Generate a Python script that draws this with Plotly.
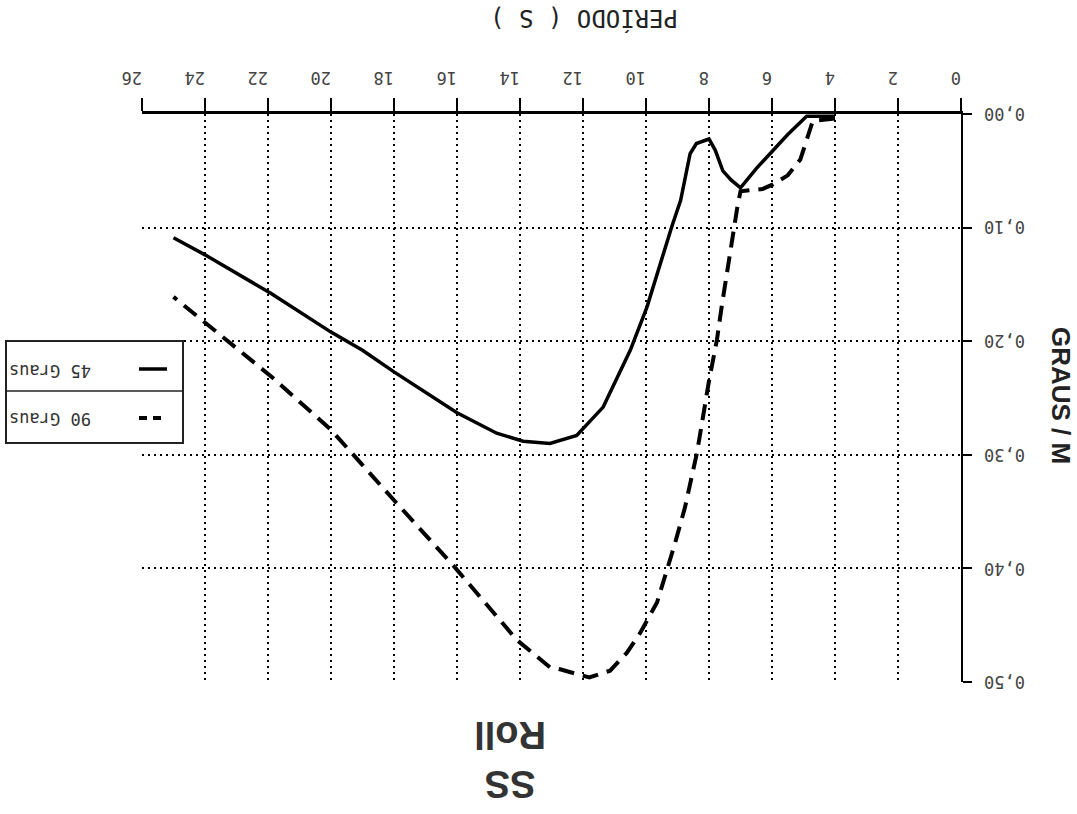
import plotly.graph_objects as go

# Data (period in s, response in graus/m)
periodo_45 = [4.0, 4.9, 5.5, 5.97, 6.5, 7.0, 7.3, 7.56, 7.8, 8.0, 8.4, 8.6, 8.9, 9.18, 9.56,
              9.97, 10.5, 11.0, 11.36, 12.2, 13.05, 13.9, 14.74, 16.0, 18.0, 19.0, 20.0, 21.9, 24.0, 25.0]
graus_45 = [0.002, 0.002, 0.018, 0.032, 0.048, 0.065, 0.058, 0.050, 0.032, 0.022, 0.026, 0.035, 0.076, 0.099, 0.134,
            0.170, 0.208, 0.237, 0.258, 0.283, 0.290, 0.288, 0.281, 0.263, 0.227, 0.208, 0.192, 0.158, 0.124, 0.109]

periodo_90 = [4.0, 4.7, 4.75, 5.1, 5.5, 5.97, 6.3, 7.0, 7.1, 7.27, 7.43, 7.6, 7.75, 8.0, 8.38, 8.76,
              9.08, 9.3, 9.65, 10.19, 10.6, 11.14, 11.8, 12.7, 13.05, 14.1, 16.1, 18.0, 20.0, 21.9, 24.0, 25.0]
graus_90 = [0.004, 0.006, 0.010, 0.040, 0.054, 0.062, 0.066, 0.068, 0.082, 0.111, 0.140, 0.170, 0.199, 0.235, 0.298, 0.346,
            0.378, 0.399, 0.430, 0.457, 0.474, 0.490, 0.496, 0.489, 0.487, 0.463, 0.398, 0.340, 0.278, 0.231, 0.184, 0.161]

x_ticks = list(range(0, 27, 2))
y_ticks = [0.0, 0.1, 0.2, 0.3, 0.4, 0.5]
y_tick_text = ["0,00", "0,10", "0,20", "0,30", "0,40", "0,50"]
series_names = ["45 Graus", "90 Graus"]

tick_font = dict(family="DejaVu Sans Mono", size=17, color="#444")

fig = go.Figure()
fig.add_trace(go.Scatter(x=periodo_45, y=graus_45, mode="lines", name=series_names[0],
                         line=dict(color="black", width=3.5), showlegend=False))
fig.add_trace(go.Scatter(x=periodo_90, y=graus_90, mode="lines", name=series_names[1],
                         line=dict(color="black", width=4, dash="16px,9px"), showlegend=False))

grid_style = dict(showgrid=True, gridcolor="black", griddash="2px,4px", gridwidth=2)

fig.update_layout(
    width=1077, height=814,
    margin=dict(l=142, r=116, t=114, b=132),
    paper_bgcolor="white", plot_bgcolor="white",
    xaxis=dict(range=[26, 0], side="top", tickvals=x_ticks, tickangle=180,
               showline=True, linecolor="black", linewidth=2.5,
               ticks="outside", ticklen=13, tickwidth=1.5, tickcolor="black",
               tickfont=tick_font, ticklabelstandoff=2, zeroline=False, **grid_style),
    yaxis=dict(range=[0.5, 0], side="right", tickvals=y_ticks, showticklabels=False,
               showline=True, linecolor="black", linewidth=2,
               ticks="outside", ticklen=9, tickwidth=1.5, tickcolor="black",
               zeroline=False, **grid_style),
)

def px_x(p):
    return (p - 142) / 819.0

def px_y(p):
    return (682 - p) / 568.0

annotations = [
    dict(text="PERÍODO ( S )", x=px_x(584), y=px_y(19), xref="paper", yref="paper", xanchor="center",
         yanchor="middle", showarrow=False, textangle=180,
         font=dict(family="DejaVu Sans Mono", size=24, color="#222")),
    dict(text="<b>GRAUS / M</b>", x=px_x(1061), y=px_y(395), xref="paper", yref="paper", xanchor="center",
         yanchor="middle", showarrow=False, textangle=90,
         font=dict(family="Liberation Sans", size=26, color="#222")),
    dict(text="<b>SS<br>Roll</b>", x=px_x(510), y=px_y(760), xref="paper", yref="paper", xanchor="center",
         yanchor="middle", showarrow=False, textangle=180,
         font=dict(family="Liberation Sans", size=38, color="#333")),
]
for name, ypix in zip(series_names, [371, 419]):
    annotations.append(dict(text=name, x=px_x(50), y=px_y(ypix), xref="paper", yref="paper",
                            xanchor="center", yanchor="middle", showarrow=False, textangle=180,
                            font=dict(family="DejaVu Sans Mono", size=17, color="#333")))
for val, txt in zip(y_ticks, y_tick_text):
    annotations.append(dict(text=txt, x=px_x(1005), y=val, xref="paper", yref="y",
                            xanchor="center", yanchor="middle", showarrow=False, textangle=180,
                            font=tick_font))

shapes = [
    dict(type="rect", xref="paper", yref="paper", x0=px_x(6), x1=px_x(183), y0=px_y(443), y1=px_y(341),
         line=dict(color="#222", width=2), fillcolor="white", layer="above"),
    dict(type="line", xref="paper", yref="paper", x0=px_x(6), x1=px_x(183), y0=px_y(391), y1=px_y(391),
         line=dict(color="#222", width=1.5), layer="above"),
    dict(type="line", xref="paper", yref="paper", x0=px_x(139), x1=px_x(167), y0=px_y(369), y1=px_y(369),
         line=dict(color="black", width=3.5), layer="above"),
    dict(type="line", xref="paper", yref="paper", x0=px_x(139), x1=px_x(167), y0=px_y(418), y1=px_y(418),
         line=dict(color="black", width=4, dash="8px,6px"), layer="above"),
]

fig.update_layout(annotations=annotations, shapes=shapes)
fig.write_html("out.html")
